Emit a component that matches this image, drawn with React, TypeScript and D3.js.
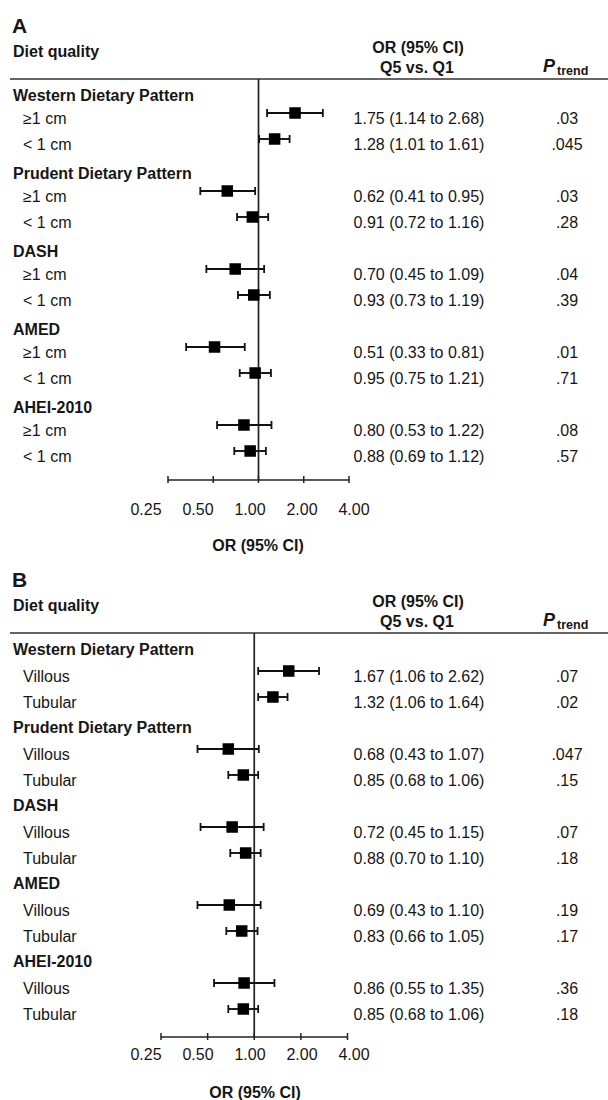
import React from "react";
import * as d3 from "d3";

// ---------- data ----------
const groups = ["Western Dietary Pattern", "Prudent Dietary Pattern", "DASH", "AMED", "AHEI-2010"];
const subA = ["≥1 cm", "< 1 cm"];
const subB = ["Villous", "Tubular"];

const orA = [1.75, 1.28, 0.62, 0.91, 0.7, 0.93, 0.51, 0.95, 0.8, 0.88];
const loA = [1.14, 1.01, 0.41, 0.72, 0.45, 0.73, 0.33, 0.75, 0.53, 0.69];
const hiA = [2.68, 1.61, 0.95, 1.16, 1.09, 1.19, 0.81, 1.21, 1.22, 1.12];
const pA = [".03", ".045", ".03", ".28", ".04", ".39", ".01", ".71", ".08", ".57"];

const orB = [1.67, 1.32, 0.68, 0.85, 0.72, 0.88, 0.69, 0.83, 0.86, 0.85];
const loB = [1.06, 1.06, 0.43, 0.68, 0.45, 0.7, 0.43, 0.66, 0.55, 0.68];
const hiB = [2.62, 1.64, 1.07, 1.06, 1.15, 1.1, 1.1, 1.05, 1.35, 1.06];
const pB = [".07", ".02", ".047", ".15", ".07", ".18", ".19", ".17", ".36", ".18"];

const tickValues = [0.25, 0.5, 1, 2, 4];
const tickLabels = ["0.25", "0.50", "1.00", "2.00", "4.00"];

const FONT = "'Liberation Sans', Arial, Helvetica, sans-serif";
const INK = "#161616";

const fmt = (v: number) => v.toFixed(2);

type PanelProps = {
  letter: string;
  subs: string[];
  or: number[];
  lo: number[];
  hi: number[];
  p: string[];
  top: number;
  itemShift: number;
  axisY: number;
  labelY: number;
  titleY: number;
  xRange: [number, number];
  titleX: number;
};

function Panel(props: PanelProps) {
  const { letter, subs, or, lo, hi, p, top, itemShift, axisY, labelY, titleY, xRange, titleX } = props;
  const x = d3.scaleLog().base(2).domain([0.25, 4]).range(xRange);
  const labelX = d3.scalePoint<string>().domain(tickLabels).range([146, 354]);
  const row = d3.scaleLinear().domain([0, 14]).range([top + 101, top + 465]);
  const lineY = top + 79;

  const rows: React.ReactNode[] = [];
  groups.forEach((g, gi) => {
    const hIdx = gi * 3;
    rows.push(
      <text key={`h${gi}`} x={13} y={row(hIdx)} fontWeight="bold" fontSize={16} fill={INK}>
        {g}
      </text>
    );
    subs.forEach((s, si) => {
      const k = gi * 2 + si;
      const base = row(hIdx + 1 + si) + itemShift;
      const my = base - 11;
      const x0 = x(lo[k]);
      const x1 = x(hi[k]);
      const xm = x(or[k]);
      rows.push(
        <g key={`r${k}`}>
          <text x={23} y={base} fontSize={16} fill={INK}>
            {s}
          </text>
          <line x1={x0} x2={x1} y1={my} y2={my} stroke="#111" strokeWidth={1.9} />
          <line x1={x0} x2={x0} y1={my - 4} y2={my + 4} stroke="#111" strokeWidth={1.8} />
          <line x1={x1} x2={x1} y1={my - 4} y2={my + 4} stroke="#111" strokeWidth={1.8} />
          <rect x={xm - 5.75} y={my - 5.75} width={11.5} height={11.5} fill="#000" />
          <text x={419} y={base} fontSize={16} textAnchor="middle" fill={INK}>
            {`${fmt(or[k])} (${fmt(lo[k])} to ${fmt(hi[k])})`}
          </text>
          <text x={567} y={base} fontSize={16} textAnchor="middle" fill={INK}>
            {p[k]}
          </text>
        </g>
      );
    });
  });

  return (
    <g fontFamily={FONT}>
      <text x={12} y={top + 33} fontSize={21} fontWeight="bold" fill={INK}>
        {letter}
      </text>
      <text x={13} y={top + 57} fontSize={16} fontWeight="bold" fill={INK}>
        Diet quality
      </text>
      <text x={418} y={top + 53} fontSize={16} fontWeight="bold" textAnchor="middle" fill={INK}>
        OR (95% CI)
      </text>
      <text x={417} y={top + 73} fontSize={16} fontWeight="bold" textAnchor="middle" fill={INK}>
        Q5 vs. Q1
      </text>
      <text x={543} y={top + 72} fontWeight="bold" fill={INK}>
        <tspan fontSize={18} fontStyle="italic">P</tspan>
        <tspan fontSize={12.5} dx={2} dy={3}>trend</tspan>
      </text>
      <line x1={10} x2={608} y1={lineY} y2={lineY} stroke="#333" strokeWidth={1.5} />
      <line x1={x(1)} x2={x(1)} y1={lineY} y2={axisY} stroke="#222" strokeWidth={1.7} />
      {rows}
      <line x1={xRange[0]} x2={xRange[1]} y1={axisY} y2={axisY} stroke="#222" strokeWidth={1.7} />
      {tickValues.map((t) => (
        <line key={`t${t}`} x1={x(t)} x2={x(t)} y1={axisY - 4} y2={axisY + 3} stroke="#222" strokeWidth={1.5} />
      ))}
      {tickLabels.map((l) => (
        <text key={`l${l}`} x={labelX(l)} y={labelY} fontSize={16} textAnchor="middle" fill={INK}>
          {l}
        </text>
      ))}
      <text x={titleX} y={titleY} fontSize={16} fontWeight="bold" textAnchor="middle" fill={INK}>
        OR (95% CI)
      </text>
    </g>
  );
}

export default function App() {
  return (
    <svg
      width={608}
      height={1100}
      style={{ position: "absolute", left: 0, top: 0, background: "#fff" }}
    >
      <rect x={0} y={0} width={608} height={1100} fill="#fff" />
      <Panel
        letter="A"
        subs={subA}
        or={orA}
        lo={loA}
        hi={hiA}
        p={pA}
        top={0}
        itemShift={-3}
        axisY={480}
        labelY={515}
        titleY={551}
        xRange={[168, 349]}
        titleX={258}
      />
      <Panel
        letter="B"
        subs={subB}
        or={orB}
        lo={loB}
        hi={hiB}
        p={pB}
        top={554}
        itemShift={1}
        axisY={1037}
        labelY={1060}
        titleY={1098}
        xRange={[161, 347.5]}
        titleX={255}
      />
    </svg>
  );
}
